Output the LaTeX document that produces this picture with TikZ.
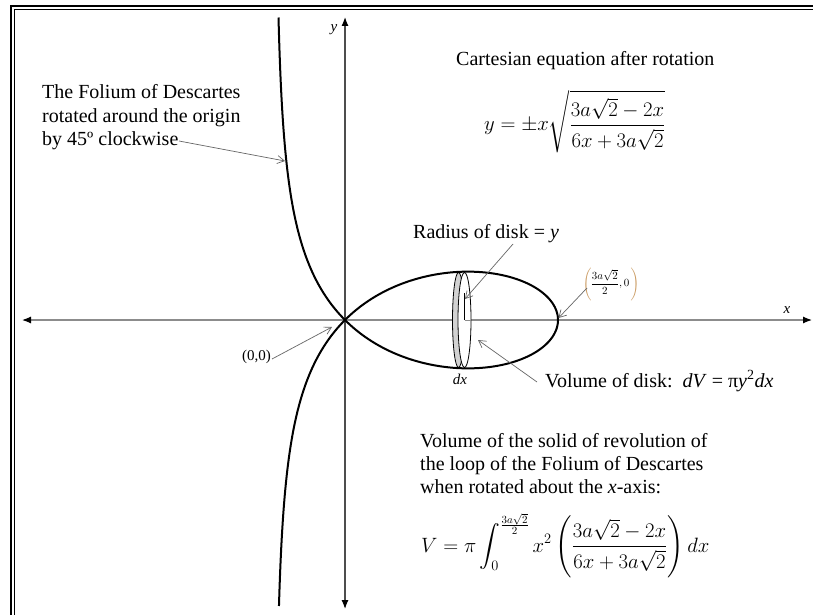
\documentclass[tikz,border=0pt]{standalone}
\usepackage{fontspec}
\setmainfont{Liberation Serif}
\usepackage{amsmath}
\usetikzlibrary{arrows.meta}
\definecolor{axisgray}{HTML}{8C8C8C}
\definecolor{yaxisgray}{HTML}{4D4D4D}
\definecolor{leadgray}{HTML}{666666}
\definecolor{parentan}{HTML}{C8965A}
\tikzset{
 lbl/.style={inner sep=0pt, anchor=base west, font=\fontsize{20}{23}\selectfont},
 smalllbl/.style={inner sep=0pt, font=\fontsize{15}{18}\selectfont},
 leader/.style={draw=leadgray, line width=0.7pt, -{Straight Barb[length=7pt,width=8pt]}},
 foliumcurve/.style={line width=2pt, black},
 axisline/.style={line width=1.2pt, {Latex[length=9pt,width=7pt,black]}-{Latex[length=9pt,width=7pt,black]}},
 mathlbl/.style={inner sep=0pt, anchor=base west, font=\fontsize{21}{25}\selectfont},
}
\begin{document}
\begin{tikzpicture}[x=1pt,y=-1pt]
\useasboundingbox (0,0) rectangle (813,615);
\clip (0,0) rectangle (813,615);
\fill[white] (0,0) rectangle (813,615);
% frame (only top and left edges fall inside the picture)
\coordinate (fo1) at (11,640);
\coordinate (fo2) at (11,6.3);
\coordinate (fo3) at (900,6.3);
\draw[line width=2pt] (fo1) -- (fo2) -- (fo3);
\coordinate (fi1) at (14.2,640);
\coordinate (fi2) at (14.2,10);
\coordinate (fi3) at (900,10);
\draw[line width=1pt] (fi1) -- (fi2) -- (fi3);
% axes
\coordinate (xl) at (22,320);
\coordinate (xr) at (812,320);
\draw[axisline, draw=axisgray] (xl) -- (xr);
\coordinate (yt) at (345,17);
\coordinate (yb) at (345,609);
\draw[axisline, draw=yaxisgray] (yt) -- (yb);
\node[smalllbl, anchor=base] (xlab) at (787,313) {\textit{x}};
\node[smalllbl, anchor=base] (ylab) at (334,32) {\textit{y}};
% disk
\draw[line width=0.8pt, fill=gray!35] (458.5,320) ellipse [x radius=6, y radius=47.5];
\draw[line width=0.8pt, fill=white] (464.5,320) ellipse [x radius=6.5, y radius=47.5];
\coordinate (dc) at (464.5,320);
\coordinate (de) at (471,320);
\coordinate (dr) at (464.5,293);
\draw[axisgray, line width=1pt] (dc) -- (de);
\draw[black, line width=0.8pt] (dc) -- (dr);
% folium curve
\begin{scope}[shift={(345,320)}, yscale=-1]
\draw[foliumcurve, smooth, samples=300, domain=-77.6:77]
  plot ({426*cos(2*\x)/(2+4*sin(\x)^2)}, {426*cos(2*\x)/(2+4*sin(\x)^2)*tan(\x)});
\end{scope}
% texts
\node[lbl] (f1) at (42,99) {The Folium of Descartes};
\node[lbl] (f2) at (42,122) {rotated around the origin};
\node[lbl] (f3) at (42,145) {by 45º clockwise};
\node[lbl] (cart) at (456,66) {Cartesian equation after rotation};
\node[mathlbl] (eq1) at (484,131) {$\displaystyle y=\pm x\sqrt{\frac{3a\sqrt{2}-2x}{6x+3a\sqrt{2}}}$};
\node[lbl] (rad) at (413,238) {Radius of disk = \textit{y}};
\node[inner sep=0pt, font=\fontsize{11}{13}\selectfont] (tipl) at (611,284)
  {$\textcolor{parentan}{\left(\vphantom{\dfrac{3a\sqrt{2}}{2}}\right.}\!\dfrac{3a\sqrt{2}}{2},0\textcolor{parentan}{\left.\vphantom{\dfrac{3a\sqrt{2}}{2}}\right)}$};
\node[smalllbl, anchor=base west] (orig) at (242,360) {(0,0)};
\node[smalllbl, anchor=base] (dxl) at (460,384) {\textit{dx}};
\node[lbl] (vdisk) at (545,387) {Volume of disk:\ \ \textit{dV} = π\textit{y}\textsuperscript{2}\textit{dx}};
\node[lbl] (v1) at (420,447) {Volume of the solid of revolution of};
\node[lbl] (v2) at (420,470) {the loop of the Folium of Descartes};
\node[lbl] (v3) at (420,493) {when rotated about the \textit{x}-axis:};
\node[mathlbl] (vform) at (421,552) {$\displaystyle V=\pi\int_0^{\frac{3a\sqrt{2}}{2}} x^2\left(\frac{3a\sqrt{2}-2x}{6x+3a\sqrt{2}}\right)dx$};
% leaders
\coordinate (a1s) at (179,141);
\coordinate (a1e) at (285,161);
\draw[leader] (a1s) -- (a1e);
\coordinate (a2s) at (272,359);
\coordinate (a2e) at (332,327);
\draw[leader] (a2s) -- (a2e);
\coordinate (a3s) at (513,244);
\coordinate (a3e) at (465,299);
\draw[leader] (a3s) -- (a3e);
\coordinate (a4s) at (587,288);
\coordinate (a4e) at (558.5,318);
\draw[leader] (a4s) -- (a4e);
\coordinate (a5s) at (537,382);
\coordinate (a5e) at (478,340);
\draw[leader] (a5s) -- (a5e);
\end{tikzpicture}
\end{document}
